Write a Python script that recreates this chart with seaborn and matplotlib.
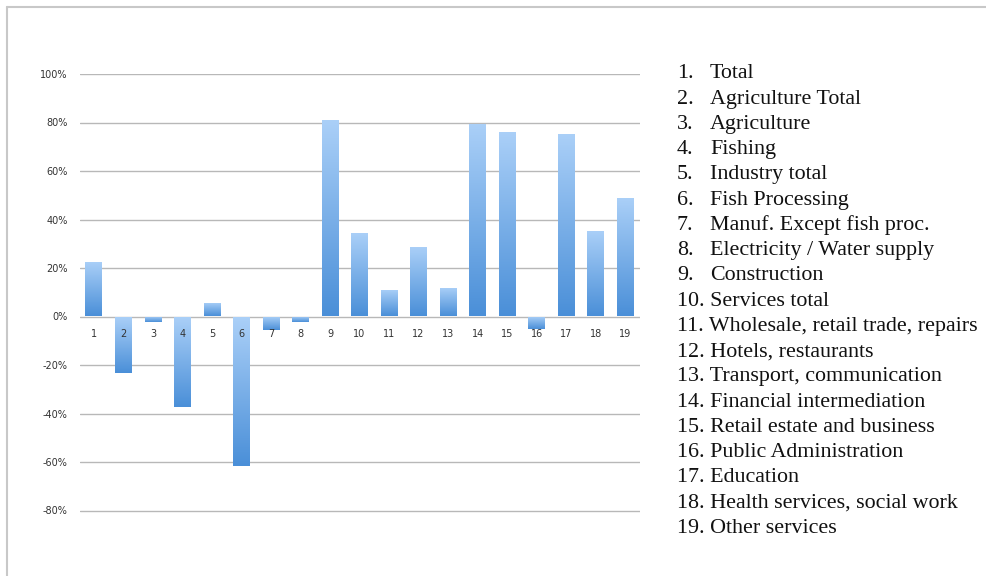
import numpy as np
import pandas as pd
import matplotlib
matplotlib.use("Agg")
import matplotlib.pyplot as plt
from matplotlib.colors import LinearSegmentedColormap
from matplotlib.lines import Line2D
import seaborn as sns

# --- data ---
sector_ids = [str(i) for i in range(1, 20)]
change = [0.226, -0.233, -0.021, -0.375, 0.057, -0.615, -0.055, -0.023, 0.812,
          0.345, 0.110, 0.286, 0.118, 0.792, 0.762, -0.050, 0.753, 0.352, 0.489]
sector_names = [
    "Total", "Agriculture Total", "Agriculture", "Fishing", "Industry total",
    "Fish Processing", "Manuf. Except fish proc.", "Electricity / Water supply",
    "Construction", "Services total", "Wholesale, retail trade, repairs",
    "Hotels, restaurants", "Transport, communication", "Financial intermediation",
    "Retail estate and business", "Public Administration", "Education",
    "Health services, social work", "Other services",
]
y_ticks = [-0.8, -0.6, -0.4, -0.2, 0.0, 0.2, 0.4, 0.6, 0.8, 1.0]

df = pd.DataFrame({"sector": sector_ids, "change": change})

sns.set_style("white")
W, H = 987, 576
fig = plt.figure(figsize=(W / 100, H / 100), dpi=100)
ax = fig.add_axes([80 / W, 1 - 559 / H, 560 / W, 485 / H])

sns.barplot(data=df, x="sector", y="change", order=sector_ids,
            color="#6fa8e8", width=0.57, ax=ax)

# vertical gradient on every bar: light at top, darker at bottom
grad_cmap = LinearSegmentedColormap.from_list("bar_grad", ["#abd0f8", "#4a8fd8"])
grad = np.linspace(0, 1, 256).reshape(-1, 1)
for p in ax.patches:
    x0, y0 = p.get_x(), p.get_y()
    w, h = p.get_width(), p.get_height()
    bottom, top = min(y0, y0 + h), max(y0, y0 + h)
    img = ax.imshow(grad, cmap=grad_cmap, aspect="auto", origin="upper",
                    extent=[x0, x0 + w, bottom, top], zorder=2)
    img.set_clip_path(p)
    p.set_facecolor("none")
    p.set_edgecolor("none")

ax.set_xlim(-0.47, 18.5)
ax.set_ylim(-1.0, 1.0)
ax.set_yticks(y_ticks)
ax.set_yticklabels([f"{int(round(v * 100))}%" for v in y_ticks])
ax.yaxis.grid(True, color="#b8b8b8", linewidth=1.0)
# gridlines under the bars, category numbers on top of them
ax.yaxis.set_zorder(0.5)
ax.xaxis.set_zorder(5)
for s in ["top", "right", "left"]:
    ax.spines[s].set_visible(False)
ax.spines["bottom"].set_position(("data", 0))
ax.spines["bottom"].set_visible(False)
ax.tick_params(axis="both", length=0, labelsize=7, labelcolor="#333333")
ax.tick_params(axis="y", pad=9)
ax.tick_params(axis="x", pad=9)
ax.set_xlabel("")
ax.set_ylabel("")

# numbered list on the right
serif = ["Liberation Serif", "DejaVu Serif"]
fs = 15.8
base_y, step = 78.3, 25.26
for i, name in enumerate(sector_names):
    yb = base_y + i * step
    num = f"{i + 1}."
    if i < 9:
        fig.text(677 / W, 1 - yb / H, num, family=serif, fontsize=fs,
                 ha="left", va="baseline", color="#111111")
        fig.text(710 / W, 1 - yb / H, name, family=serif, fontsize=fs,
                 ha="left", va="baseline", color="#111111")
    else:
        fig.text(677 / W, 1 - yb / H, f"{num} {name}", family=serif,
                 fontsize=fs, ha="left", va="baseline", color="#111111")

# thin frame on the top and left edges
fig.add_artist(Line2D([7 / W, 7 / W], [1 - 7 / H, 0], transform=fig.transFigure,
                      color="#c8c8c8", linewidth=1.5))
fig.add_artist(Line2D([7 / W, 1], [1 - 7 / H, 1 - 7 / H], transform=fig.transFigure,
                      color="#c8c8c8", linewidth=1.5))

fig.savefig("out.png", dpi=100)
